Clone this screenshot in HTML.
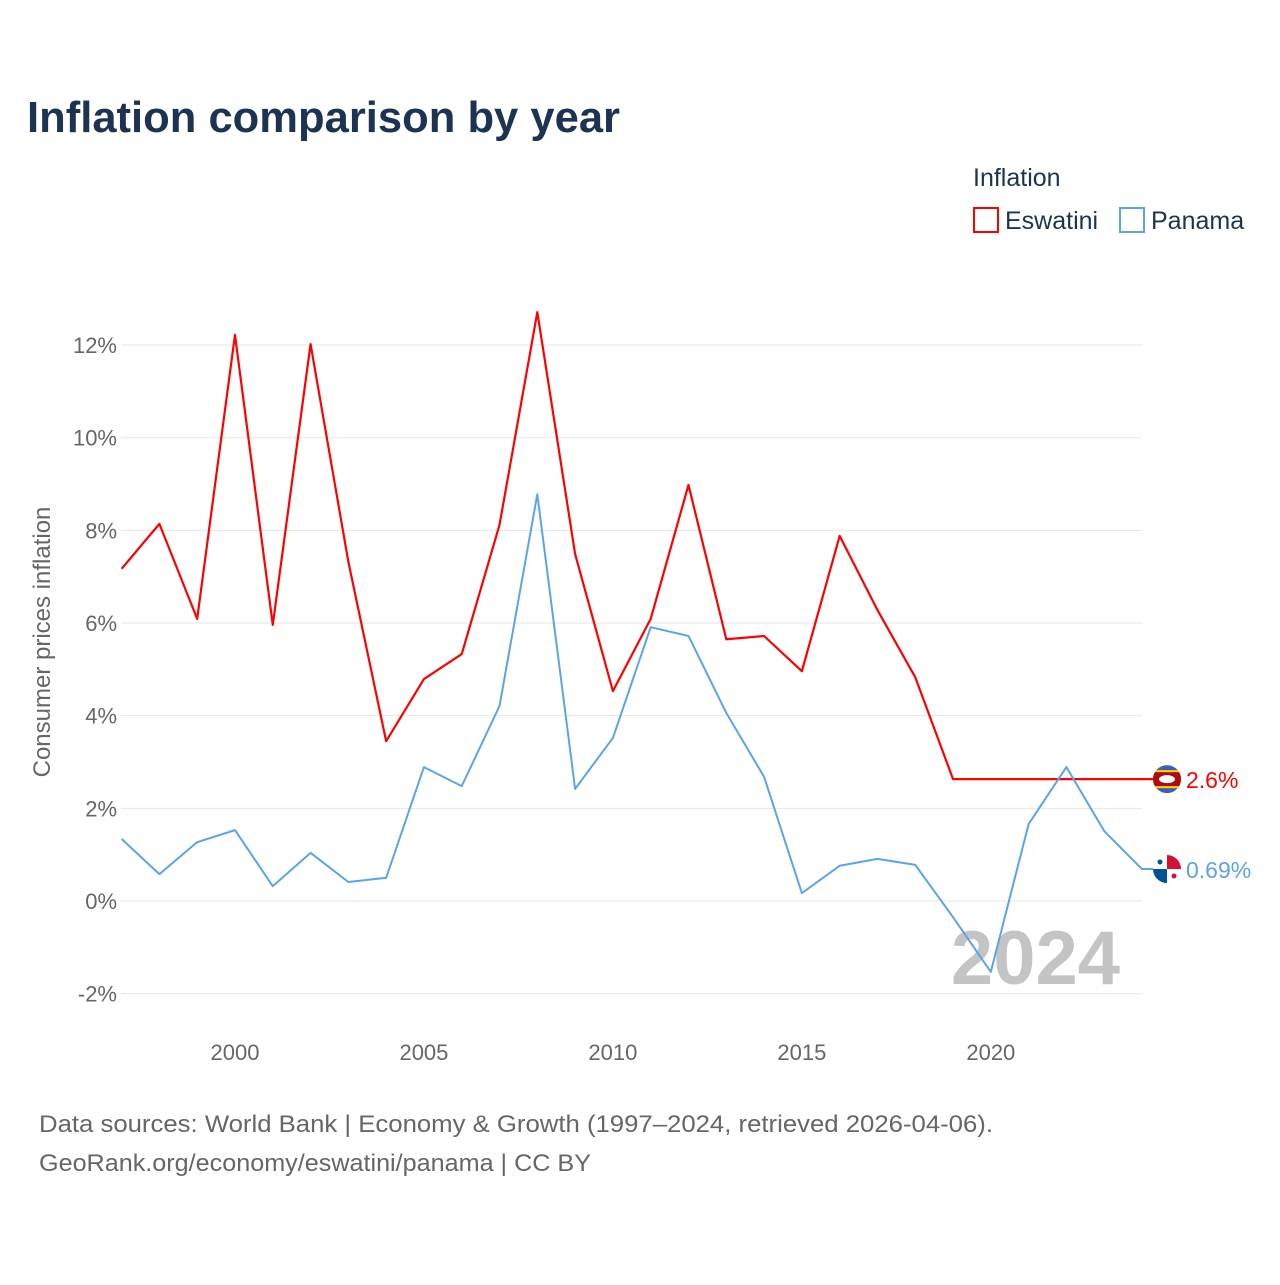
<!DOCTYPE html>
<html><head><meta charset="utf-8"><style>
body{margin:0;background:#fff;font-family:"Liberation Sans",sans-serif}
svg text{font-family:"Liberation Sans",sans-serif}
</style></head><body>
<svg id="chart" width="1280" height="1280" viewBox="0 0 1280 1280" xmlns="http://www.w3.org/2000/svg">
<rect width="1280" height="1280" fill="#fff"/>
<text x="27" y="132" font-size="44" font-weight="bold" fill="#1c3352" textLength="593" lengthAdjust="spacingAndGlyphs">Inflation comparison by year</text>
<g>
<text x="973" y="186" font-size="25" fill="#1c3352">Inflation</text>
<g><rect x="974" y="208" width="24" height="24" fill="none" stroke="#f00" stroke-width="2"/><text x="1005" y="229" font-size="25" fill="#1c3352">Eswatini</text></g>
<g><rect x="1120" y="208" width="24" height="24" fill="none" stroke="#5aa5ea" stroke-width="2"/><text x="1151" y="229" font-size="25" fill="#1c3352">Panama</text></g>
</g>
<g id="grid"></g>
<g id="yticks"></g>
<g id="xticks"></g>
<text transform="translate(50,642) rotate(-90)" text-anchor="middle" font-size="24" fill="#666">Consumer prices inflation</text>
<text x="1120" y="984" text-anchor="end" font-size="76" font-weight="bold" fill="#c4c4c4">2024</text>
<g id="series"></g>
<text x="39" y="1132" font-size="24" fill="#666" textLength="954" lengthAdjust="spacingAndGlyphs">Data sources: World Bank | Economy &amp; Growth (1997–2024, retrieved 2026-04-06).</text>
<text x="39" y="1171" font-size="24" fill="#666" textLength="552" lengthAdjust="spacingAndGlyphs">GeoRank.org/economy/eswatini/panama | CC BY</text>
</svg>
<script>
const years=[1997,1998,1999,2000,2001,2002,2003,2004,2005,2006,2007,2008,2009,2010,2011,2012,2013,2014,2015,2016,2017,2018,2019,2020,2021,2022,2023,2024];
const eswatini=[7.17,8.14,6.09,12.22,5.96,12.02,7.32,3.45,4.79,5.33,8.12,12.71,7.49,4.53,6.09,8.98,5.65,5.72,4.96,7.88,6.28,4.83,2.63,2.63,2.63,2.63,2.63,2.63];
const panama=[1.34,0.58,1.27,1.53,0.32,1.04,0.41,0.50,2.89,2.48,4.21,8.78,2.42,3.52,5.91,5.72,4.06,2.68,0.17,0.76,0.91,0.78,-0.35,-1.53,1.66,2.89,1.51,0.69];
const yTicks=[-2,0,2,4,6,8,10,12];
const xTicks=[2000,2005,2010,2015,2020];
const endLabels=["2.6%","0.69%"];
const NS="http://www.w3.org/2000/svg";
const x=v=>121.6+(v-1997)*(1142-121.6)/27;
const y=v=>901-v*46.33;
function mk(t,a,p){const e=document.createElementNS(NS,t);for(const k in a)e.setAttribute(k,a[k]);p.appendChild(e);return e;}
const grid=document.getElementById('grid'),yt=document.getElementById('yticks'),xt=document.getElementById('xticks'),sr=document.getElementById('series');
yTicks.forEach(v=>{
 const l=mk('line',{x1:121,x2:1142,y1:y(v),y2:y(v),stroke:'#e6e6e6','stroke-width':1},grid);
 
 
 const t=mk('text',{x:117,y:y(v)+8,'text-anchor':'end','font-size':22,fill:'#666'},yt);
 t.textContent=v+'%';
 
 
});
xTicks.forEach(v=>{
 const t=mk('text',{x:x(v),y:1060,'text-anchor':'middle','font-size':22,fill:'#666'},xt);
 t.textContent=v;
 
 
});
function line(data,color,name,label){
 const pts=data.map((v,i)=>x(years[i])+','+y(v));
 const last=data[data.length-1];
 pts.push('1166,'+y(last));
 const p=mk('polyline',{points:pts.join(' '),fill:'none',stroke:color,'stroke-width':name==='line-eswatini'?2.2:2,'stroke-linejoin':'round'},sr);
 
 
 const t=mk('text',{x:1186,y:y(last)+9,'font-size':23,fill:color},sr);
 t.textContent=label;
 
 
 return y(last);
}
const ey=line(eswatini,'#f00','line-eswatini',endLabels[0]);
const py=line(panama,'#5aa5ea','line-panama',endLabels[1]);
let g=mk('g',{},sr);


const ce=mk('clipPath',{id:'ce'},g);mk('circle',{cx:1167,cy:ey,r:14},ce);
const fe=mk('g',{'clip-path':'url(#ce)'},g);
mk('rect',{x:1153,y:ey-14,width:28,height:28,fill:'#3e5eb9'},fe);
mk('rect',{x:1153,y:ey-9,width:28,height:18,fill:'#ffd900'},fe);
mk('rect',{x:1153,y:ey-7,width:28,height:14,fill:'#b10c0c'},fe);
mk('ellipse',{cx:1167,cy:ey,rx:8,ry:4,fill:'#fff'},fe);
mk('path',{d:`M1167 ${ey-4}A8 4 0 0 0 1167 ${ey+4}A8 4 0 0 1 1167 ${ey-4}`,fill:'#000'},fe);
g=mk('g',{},sr);


const cp=mk('clipPath',{id:'cp'},g);mk('circle',{cx:1167,cy:py,r:14},cp);
const fp=mk('g',{'clip-path':'url(#cp)'},g);
mk('rect',{x:1153,y:py-14,width:28,height:28,fill:'#fff'},fp);
mk('rect',{x:1167,y:py-14,width:14,height:14,fill:'#d21034'},fp);
mk('rect',{x:1153,y:py,width:14,height:14,fill:'#005293'},fp);
mk('circle',{cx:1160,cy:py-7,r:2.5,fill:'#005293'},fp);
mk('circle',{cx:1174,cy:py+7,r:2.5,fill:'#d21034'},fp);
</script>
</body></html>
